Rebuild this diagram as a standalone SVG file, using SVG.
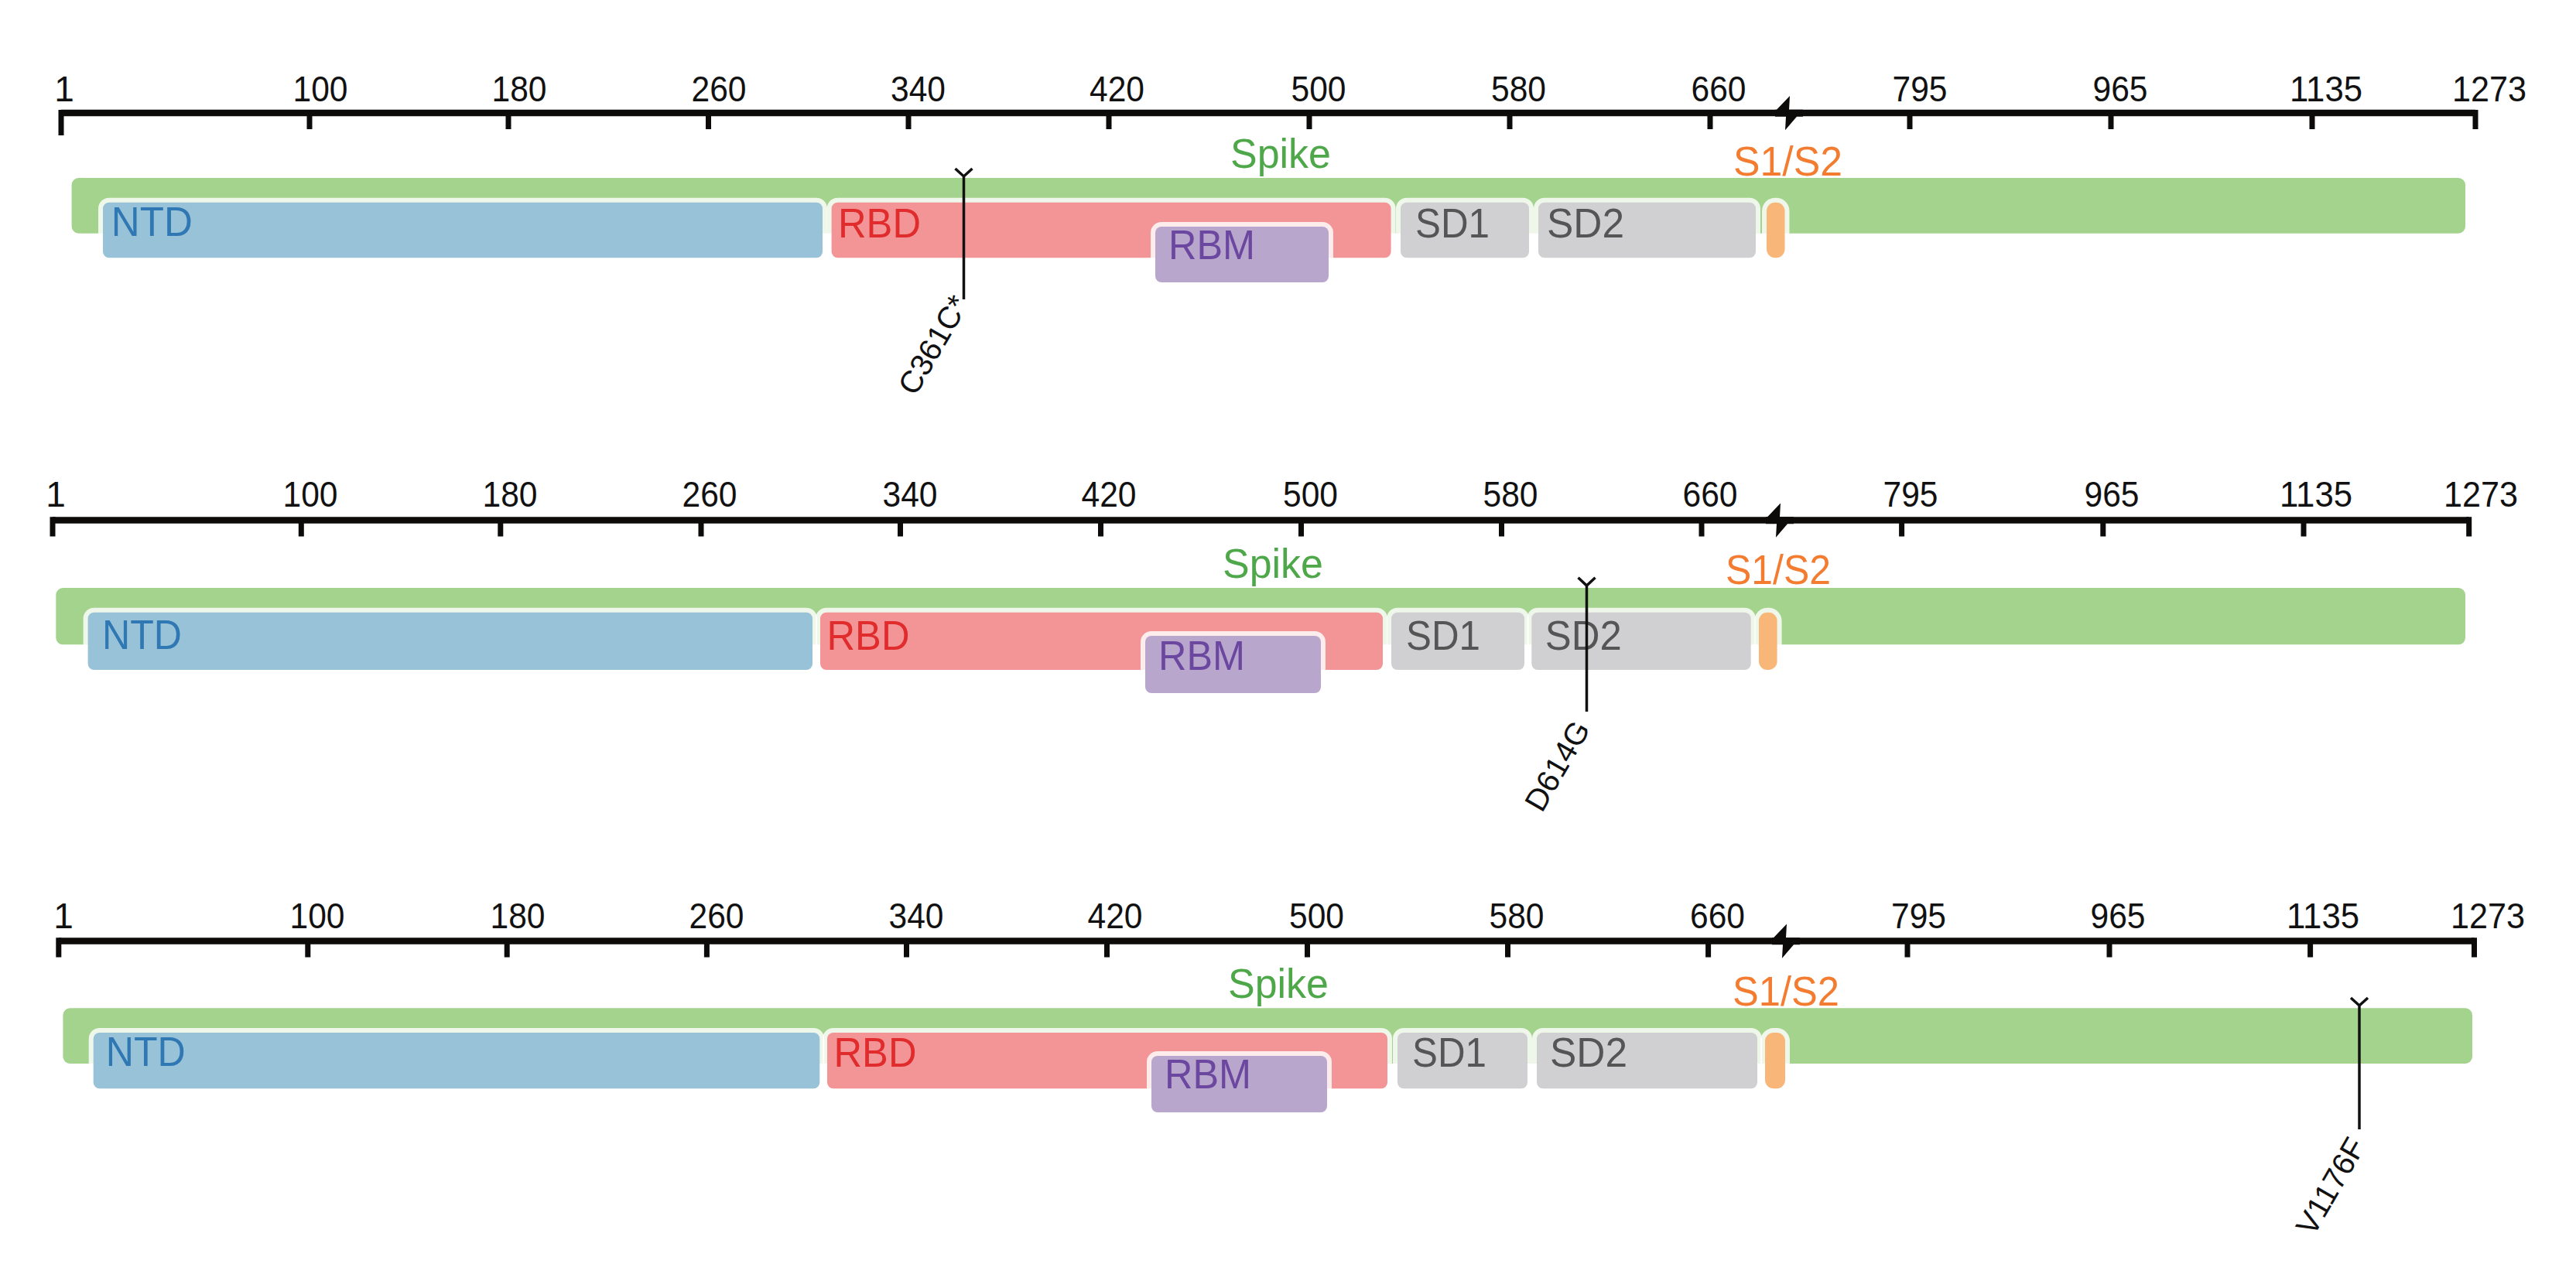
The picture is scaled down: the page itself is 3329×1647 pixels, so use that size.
<svg xmlns="http://www.w3.org/2000/svg" width="3329" height="1647" viewBox="0 0 3329 1647">
<style>
text{font-family:"Liberation Sans",Arial,Helvetica,sans-serif}
.ax{stroke:#0d0a0a;stroke-width:8.5;fill:none}
.tk{stroke:#0d0a0a;stroke-width:7;fill:none}
.bolt{fill:#0d0a0a}
.num{font-size:46px;fill:#111;text-anchor:middle}
.bar{fill:#a4d38e;stroke:#ffffff;stroke-opacity:0.75;stroke-width:9;paint-order:stroke}
.dom{stroke:#ffffff;stroke-opacity:0.82;stroke-width:12;paint-order:stroke}
.ntd{fill:#98c2d8}.rbd{fill:#f39596}.rbm{fill:#b9a6cd}.sd{fill:#d0d0d2}.cs{fill:#f8b678}
.lbl{font-size:53px}
.tntd{fill:#2f78b3}.trbd{fill:#e02c2c}.trbm{fill:#6b47a0}.tsd{fill:#555555}
.tsp{fill:#4ea84a;text-anchor:middle}.tcs{fill:#f47c30;text-anchor:middle}
.mk{stroke:#111;stroke-width:3.5;fill:none}
.mut{font-size:40px;fill:#111;text-anchor:end}
</style>
<defs>
  <path id="bolt" class="bolt" d="M-14,0 L-12,0 L5,-17.7 L4,0 L22,0 L22,9 L14,9 L-1,26.5 L0,9 L-14,9 Z"/>
</defs>
<rect width="3329" height="1647" fill="#ffffff"/>

<!-- ================= PANEL 1 ================= -->
<g id="panel1">
  <g id="axis1">
    <line class="ax" x1="79" y1="146" x2="3199" y2="146"/>
    <use href="#bolt" transform="translate(2308,141.7)"/>
    <path class="tk" d="M79,142V175 M400,146V167 M657,146V167 M915.5,146V167 M1174,146V167 M1433,146V167 M1692,146V167 M1951,146V167 M2210,146V167 M2468,146V167 M2728,146V167 M2988,146V167 M3199,142V167"/>
    <text class="num" x="83" y="131">1</text>
    <text class="num" x="414" y="131" textLength="71" lengthAdjust="spacingAndGlyphs">100</text>
    <text class="num" x="671" y="131" textLength="71" lengthAdjust="spacingAndGlyphs">180</text>
    <text class="num" x="929" y="131" textLength="71" lengthAdjust="spacingAndGlyphs">260</text>
    <text class="num" x="1186.5" y="131" textLength="71" lengthAdjust="spacingAndGlyphs">340</text>
    <text class="num" x="1443.5" y="131" textLength="71" lengthAdjust="spacingAndGlyphs">420</text>
    <text class="num" x="1704" y="131" textLength="71" lengthAdjust="spacingAndGlyphs">500</text>
    <text class="num" x="1962.5" y="131" textLength="71" lengthAdjust="spacingAndGlyphs">580</text>
    <text class="num" x="2221" y="131" textLength="71" lengthAdjust="spacingAndGlyphs">660</text>
    <text class="num" x="2481" y="131" textLength="71" lengthAdjust="spacingAndGlyphs">795</text>
    <text class="num" x="2740" y="131" textLength="71" lengthAdjust="spacingAndGlyphs">965</text>
    <text class="num" x="3006" y="131" textLength="94" lengthAdjust="spacingAndGlyphs">1135</text>
    <text class="num" x="3217" y="131" textLength="96" lengthAdjust="spacingAndGlyphs">1273</text>
  </g>
  <g id="spike1">
    <rect class="bar" x="92.6" y="230" width="3093.4" height="71.7" rx="9"/>
    <text class="lbl tsp" x="1655" y="216.7" textLength="130" lengthAdjust="spacingAndGlyphs">Spike</text>
    <text class="lbl tcs" x="2310.5" y="227" textLength="141" lengthAdjust="spacingAndGlyphs">S1/S2</text>
  </g>
  <g id="ntd1"><rect class="dom ntd" x="133" y="261.7" width="930" height="71.6" rx="8"/><text class="lbl tntd" x="143.8" y="305" textLength="105" lengthAdjust="spacingAndGlyphs">NTD</text></g>
  <g id="rbd1"><rect class="dom rbd" x="1074.6" y="261.7" width="723" height="71.6" rx="8"/><text class="lbl trbd" x="1083" y="307" textLength="107" lengthAdjust="spacingAndGlyphs">RBD</text></g>
  <g id="rbm1"><rect class="dom rbm" x="1493" y="293" width="224" height="72" rx="8"/><text class="lbl trbm" x="1510" y="335" textLength="112" lengthAdjust="spacingAndGlyphs">RBM</text></g>
  <g id="sd1_1"><rect class="dom sd" x="1810" y="261.7" width="166" height="71.6" rx="8"/><text class="lbl tsd" x="1829" y="307" textLength="96" lengthAdjust="spacingAndGlyphs">SD1</text></g>
  <g id="sd2_1"><rect class="dom sd" x="1988" y="261.7" width="281" height="71.6" rx="8"/><text class="lbl tsd" x="1999" y="307" textLength="100" lengthAdjust="spacingAndGlyphs">SD2</text></g>
  <g id="s1s2_1"><rect class="dom cs" x="2283" y="261.7" width="23.5" height="71.6" rx="11"/></g>
</g>

<!-- ================= PANEL 2 ================= -->
<g id="panel2">
  <g id="axis2">
    <line class="ax" x1="68" y1="672.5" x2="3190.7" y2="672.5"/>
    <use href="#bolt" transform="translate(2296,668.3)"/>
    <path class="tk" d="M68,668.3V693.5 M389.3,672.5V693.5 M646.8,672.5V693.5 M906,672.5V693.5 M1163.5,672.5V693.5 M1422.5,672.5V693.5 M1681.5,672.5V693.5 M1940.5,672.5V693.5 M2199,672.5V693.5 M2457.6,672.5V693.5 M2717.8,672.5V693.5 M2977,672.5V693.5 M3190.7,668.3V693.5"/>
    <text class="num" x="72" y="655">1</text>
    <text class="num" x="401" y="655" textLength="71" lengthAdjust="spacingAndGlyphs">100</text>
    <text class="num" x="659" y="655" textLength="71" lengthAdjust="spacingAndGlyphs">180</text>
    <text class="num" x="917" y="655" textLength="71" lengthAdjust="spacingAndGlyphs">260</text>
    <text class="num" x="1176" y="655" textLength="71" lengthAdjust="spacingAndGlyphs">340</text>
    <text class="num" x="1433" y="655" textLength="71" lengthAdjust="spacingAndGlyphs">420</text>
    <text class="num" x="1693.5" y="655" textLength="71" lengthAdjust="spacingAndGlyphs">500</text>
    <text class="num" x="1952" y="655" textLength="71" lengthAdjust="spacingAndGlyphs">580</text>
    <text class="num" x="2210" y="655" textLength="71" lengthAdjust="spacingAndGlyphs">660</text>
    <text class="num" x="2469" y="655" textLength="71" lengthAdjust="spacingAndGlyphs">795</text>
    <text class="num" x="2729" y="655" textLength="71" lengthAdjust="spacingAndGlyphs">965</text>
    <text class="num" x="2993" y="655" textLength="94" lengthAdjust="spacingAndGlyphs">1135</text>
    <text class="num" x="3206" y="655" textLength="96" lengthAdjust="spacingAndGlyphs">1273</text>
  </g>
  <g id="spike2">
    <rect class="bar" x="72.3" y="760" width="3113.7" height="73.3" rx="9"/>
    <text class="lbl tsp" x="1645" y="746.7" textLength="130" lengthAdjust="spacingAndGlyphs">Spike</text>
    <text class="lbl tcs" x="2298" y="755" textLength="136" lengthAdjust="spacingAndGlyphs">S1/S2</text>
  </g>
  <g id="ntd2"><rect class="dom ntd" x="113.6" y="791.7" width="936.4" height="74.3" rx="8"/><text class="lbl tntd" x="132" y="839" textLength="103" lengthAdjust="spacingAndGlyphs">NTD</text></g>
  <g id="rbd2"><rect class="dom rbd" x="1060" y="791.7" width="727" height="74.3" rx="8"/><text class="lbl trbd" x="1068.5" y="840" textLength="107" lengthAdjust="spacingAndGlyphs">RBD</text></g>
  <g id="rbm2"><rect class="dom rbm" x="1480" y="822" width="227" height="74" rx="8"/><text class="lbl trbm" x="1497" y="866" textLength="112" lengthAdjust="spacingAndGlyphs">RBM</text></g>
  <g id="sd1_2"><rect class="dom sd" x="1798" y="791.7" width="172" height="74.3" rx="8"/><text class="lbl tsd" x="1817" y="840" textLength="96" lengthAdjust="spacingAndGlyphs">SD1</text></g>
  <g id="sd2_2"><rect class="dom sd" x="1979.3" y="791.7" width="283.4" height="74.3" rx="8"/><text class="lbl tsd" x="1996.7" y="840" textLength="99" lengthAdjust="spacingAndGlyphs">SD2</text></g>
  <g id="s1s2_2"><rect class="dom cs" x="2273" y="791.7" width="23.6" height="74.3" rx="11"/></g>
</g>

<!-- ================= PANEL 3 ================= -->
<g id="panel3">
  <g id="axis3">
    <line class="ax" x1="75.8" y1="1216.5" x2="3197.5" y2="1216.5"/>
    <use href="#bolt" transform="translate(2304,1212.3)"/>
    <path class="tk" d="M75.8,1212.3V1237.5 M397.8,1216.5V1237.5 M655.2,1216.5V1237.5 M913.4,1216.5V1237.5 M1171.5,1216.5V1237.5 M1430.5,1216.5V1237.5 M1689.5,1216.5V1237.5 M1948.5,1216.5V1237.5 M2207.6,1216.5V1237.5 M2465,1216.5V1237.5 M2726,1216.5V1237.5 M2985.6,1216.5V1237.5 M3197.5,1212.3V1237.5"/>
    <text class="num" x="82" y="1200">1</text>
    <text class="num" x="410" y="1200" textLength="71" lengthAdjust="spacingAndGlyphs">100</text>
    <text class="num" x="669" y="1200" textLength="71" lengthAdjust="spacingAndGlyphs">180</text>
    <text class="num" x="926" y="1200" textLength="71" lengthAdjust="spacingAndGlyphs">260</text>
    <text class="num" x="1184" y="1200" textLength="71" lengthAdjust="spacingAndGlyphs">340</text>
    <text class="num" x="1441" y="1200" textLength="71" lengthAdjust="spacingAndGlyphs">420</text>
    <text class="num" x="1701.5" y="1200" textLength="71" lengthAdjust="spacingAndGlyphs">500</text>
    <text class="num" x="1960" y="1200" textLength="71" lengthAdjust="spacingAndGlyphs">580</text>
    <text class="num" x="2219.5" y="1200" textLength="71" lengthAdjust="spacingAndGlyphs">660</text>
    <text class="num" x="2479.5" y="1200" textLength="71" lengthAdjust="spacingAndGlyphs">795</text>
    <text class="num" x="2737" y="1200" textLength="71" lengthAdjust="spacingAndGlyphs">965</text>
    <text class="num" x="3002" y="1200" textLength="94" lengthAdjust="spacingAndGlyphs">1135</text>
    <text class="num" x="3215" y="1200" textLength="96" lengthAdjust="spacingAndGlyphs">1273</text>
  </g>
  <g id="spike3">
    <rect class="bar" x="81.4" y="1303.3" width="3113.6" height="71.7" rx="9"/>
    <text class="lbl tsp" x="1652" y="1290" textLength="130" lengthAdjust="spacingAndGlyphs">Spike</text>
    <text class="lbl tcs" x="2308" y="1300" textLength="138" lengthAdjust="spacingAndGlyphs">S1/S2</text>
  </g>
  <g id="ntd3"><rect class="dom ntd" x="120.7" y="1335" width="938.6" height="72.3" rx="8"/><text class="lbl tntd" x="136.8" y="1378" textLength="103" lengthAdjust="spacingAndGlyphs">NTD</text></g>
  <g id="rbd3"><rect class="dom rbd" x="1069" y="1335" width="724" height="72.3" rx="8"/><text class="lbl trbd" x="1077.5" y="1379" textLength="107" lengthAdjust="spacingAndGlyphs">RBD</text></g>
  <g id="rbm3"><rect class="dom rbm" x="1488" y="1365" width="227" height="73" rx="8"/><text class="lbl trbm" x="1505" y="1407" textLength="112" lengthAdjust="spacingAndGlyphs">RBM</text></g>
  <g id="sd1_3"><rect class="dom sd" x="1806" y="1335" width="168" height="72.3" rx="8"/><text class="lbl tsd" x="1825" y="1379" textLength="96" lengthAdjust="spacingAndGlyphs">SD1</text></g>
  <g id="sd2_3"><rect class="dom sd" x="1986" y="1335" width="285" height="72.3" rx="8"/><text class="lbl tsd" x="2003" y="1379" textLength="100" lengthAdjust="spacingAndGlyphs">SD2</text></g>
  <g id="s1s2_3"><rect class="dom cs" x="2281" y="1335" width="26" height="72.3" rx="11"/></g>
</g>

<!-- ================= MUTATION MARKERS ================= -->
<g id="connectors">
  <g id="mut_C361C">
    <path class="mk" d="M1234.5,218 L1245.5,228 L1256.5,218 M1245.5,228 V387"/>
    <text class="mut" x="1253" y="392" transform="rotate(-60 1253 392)">C361C*</text>
  </g>
  <g id="mut_D614G">
    <path class="mk" d="M2039.5,746.7 L2050.5,757 L2061.5,746.7 M2050.5,757 V920"/>
    <text class="mut" x="2056" y="942" transform="rotate(-60 2056 942)">D614G</text>
  </g>
  <g id="mut_V1176F">
    <path class="mk" d="M3038,1290 L3049,1300 L3060,1290 M3049,1300 V1460"/>
    <text class="mut" x="3058" y="1481" transform="rotate(-60 3058 1481)">V1176F</text>
  </g>
</g>
</svg>
